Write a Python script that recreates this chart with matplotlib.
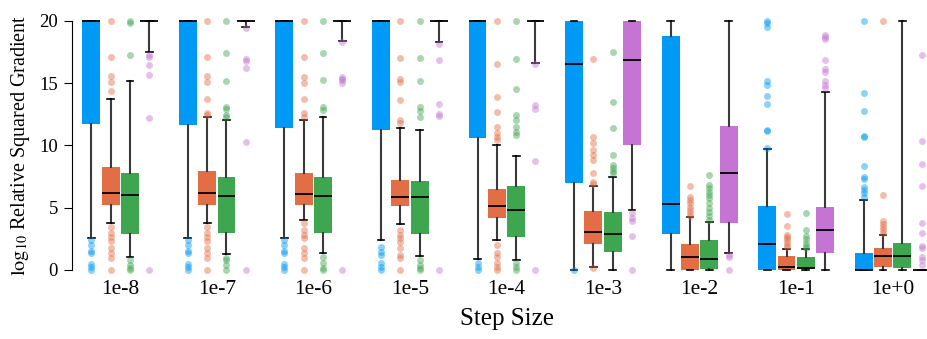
import numpy as np
import matplotlib
matplotlib.use('Agg')
import matplotlib.pyplot as plt

plt.rcParams['font.family'] = ['Liberation Serif', 'DejaVu Serif']
plt.rcParams['mathtext.fontset'] = 'stix'

steps = ['1e-8', '1e-7', '1e-6', '1e-5', '1e-4', '1e-3', '1e-2', '1e-1', '1e+0']
colors = ['#0099f5', '#e36e45', '#3da64e', '#c574d4']
offsets = [-0.3, -0.1, 0.1, 0.3]

# box statistics (log10 values, clipped to [0, 20])
blue_q1 = [11.74, 11.63, 11.42, 11.26, 10.61, 7.0, 2.91, 0, 0]
blue_med = [20, 20, 20, 20, 20, 16.5, 5.29, 2.09, 0]
blue_q3 = [20, 20, 20, 20, 20, 20, 18.77, 5.13, 1.39]
blue_lo = [2.57, 2.57, 2.57, 2.41, 0.86, 0, 0, 0, 0]
blue_hi = [20, 20, 20, 20, 20, 20, 20, 9.73, 5.61]
blue_fl = [
    [2.4, 2.0, 1.55, 1.34, 0.5, 0.27, 0],
    [2.4, 2.0, 1.55, 1.34, 0.5, 0.27, 0],
    [2.4, 2.0, 1.55, 1.34, 0.5, 0.27, 0],
    [1.87, 1.47, 1.2, 0.53, 0.27, 0],
    [0.53, 0.27, 0],
    [0],
    [],
    [20, 19.84, 19.47, 15.19, 14.84, 13.98, 13.29, 11.23, 11.15, 9.81],
    [20, 14.17, 12.78, 10.75, 10.7, 8.37, 7.49, 7.3, 6.68, 6.42, 6.15, 5.88],
]

orange_q1 = [5.24, 5.24, 5.24, 5.16, 4.2, 2.11, 0, 0, 0.27]
orange_med = [6.18, 6.18, 6.1, 5.88, 5.1, 3.02, 1.04, 0.27, 1.12]
orange_q3 = [8.26, 7.94, 7.78, 7.22, 6.5, 4.73, 2.09, 1.12, 1.76]
orange_lo = [3.74, 3.74, 4.01, 3.72, 2.38, 0.27, 0, 0, 0]
orange_hi = [13.69, 12.25, 12.03, 11.42, 10.05, 6.76, 4.22, 1.71, 2.81]
orange_fl = [
    [20, 17.1, 15.56, 15.08, 14.4, 3.48, 2.94, 2.62, 2.35, 1.74, 1.34, 0.94, 0],
    [20, 17.1, 15.56, 15.08, 13.74, 12.62, 12.43, 3.48, 2.94, 2.62, 2.35, 1.74, 1.34, 0.94, 0],
    [20, 17.06, 15.5, 15.03, 13.7, 12.57, 12.3, 3.74, 3.21, 2.81, 2.54, 1.74, 1.34, 0.94, 0],
    [20, 17.0, 15.3, 15.08, 13.64, 12.03, 11.82, 3.2, 2.81, 2.54, 2.27, 1.74, 1.2, 0.94, 0],
    [20, 16.5, 13.88, 12.67, 11.5, 10.96, 10.7, 10.43, 2.0, 1.34, 1.07, 0.53, 0.27, 0],
    [16.93, 10.7, 10.16, 9.6, 9.2, 8.8, 7.75, 7.09, 6.9, 0.13],
    [6.74, 5.83, 5.61, 5.35, 5.08, 4.81, 4.55, 4.33],
    [4.49, 3.53, 2.81, 2.62, 2.46, 2.27, 2.0, 1.82],
    [20, 6.04, 3.96, 3.69, 3.48, 3.21, 2.94],
]

green_q1 = [2.89, 2.99, 2.99, 2.91, 2.65, 1.47, 0.05, 0.1, 0.19]
green_med = [5.99, 5.96, 5.96, 5.83, 4.84, 2.86, 0.91, 0.13, 1.15]
green_q3 = [7.78, 7.46, 7.46, 7.14, 6.71, 4.65, 2.41, 1.04, 2.17]
green_lo = [1.07, 1.26, 1.34, 1.12, 0.8, 0, 0, 0, 0]
green_hi = [15.19, 12.03, 12.3, 11.23, 9.14, 7.46, 3.82, 1.66, 20]
green_fl = [
    [20, 19.84, 17.25, 0.8, 0.4, 0.13, 0],
    [20, 17.38, 15.19, 13.1, 12.89, 12.43, 12.3, 0.94, 0.8, 0.4, 0],
    [20, 17.38, 15.21, 13.1, 12.83, 1.02, 0.53, 0.13, 0],
    [20, 17.03, 15.16, 13.05, 12.78, 12.25, 0.8, 0.4, 0.13, 0],
    [20, 16.9, 14.52, 12.43, 12.03, 11.5, 11.1, 10.83, 0.53, 0.27, 0],
    [17.49, 13.48, 11.36, 9.25, 8.42, 8.16, 7.97, 7.75],
    [7.65, 6.82, 6.55, 6.28, 6.02, 5.75, 5.35, 4.95, 4.68, 4.33, 4.01],
    [4.57, 3.21, 2.73, 2.46, 2.19, 1.93, 1.74],
    [],
]

purple_q1 = [20, 20, 20, 20, 20, 10.05, 3.8, 1.39, 0]
purple_med = [20, 20, 20, 20, 20, 16.84, 7.78, 3.24, 0]
purple_q3 = [20, 20, 20, 20, 20, 20, 11.55, 5.05, 0]
purple_lo = [17.46, 19.52, 18.4, 18.26, 16.63, 4.79, 1.34, 0, 0]
purple_hi = [20, 20, 20, 20, 20, 20, 20, 14.28, 0]
purple_fl = [
    [17.25, 17.06, 16.44, 15.67, 12.19, 0],
    [19.39, 16.9, 16.76, 16.18, 10.29, 0],
    [18.3, 15.5, 15.3, 15.24, 15.03, 0],
    [18.1, 16.82, 13.32, 12.51, 12.35, 0],
    [16.5, 13.21, 12.94, 8.72, 0],
    [4.55, 4.14, 3.93, 2.73, 0],
    [1.2, 1.02, 0],
    [18.85, 18.66, 18.5, 16.84, 16.1, 15.9, 15.19, 14.84, 14.57],
    [17.25, 10.35, 8.5, 6.76, 3.8, 2.94, 1.93, 1.74, 1.07, 0.8, 0.4],
]

series = [
    (blue_q1, blue_med, blue_q3, blue_lo, blue_hi, blue_fl),
    (orange_q1, orange_med, orange_q3, orange_lo, orange_hi, orange_fl),
    (green_q1, green_med, green_q3, green_lo, green_hi, green_fl),
    (purple_q1, purple_med, purple_q3, purple_lo, purple_hi, purple_fl),
]

fig = plt.figure(figsize=(9.28, 3.39), dpi=100)
ax = fig.add_axes([72 / 928, 69 / 339, 869 / 928, 249.3 / 339])

x = np.arange(len(steps))
for (q1, med, q3, lo, hi, fl), off, c in zip(series, offsets, colors):
    stats = []
    for i in range(len(steps)):
        stats.append(dict(q1=q1[i], med=med[i], q3=q3[i], whislo=lo[i],
                          whishi=hi[i], fliers=fl[i]))
    res = ax.bxp(stats, positions=x + off, widths=0.185, capwidths=0.07,
                 patch_artist=True, manage_ticks=False,
                 boxprops=dict(facecolor=c, edgecolor='none', linewidth=0),
                 medianprops=dict(color='black', linewidth=1.3),
                 whiskerprops=dict(color='#3a3a3a', linewidth=1.5),
                 capprops=dict(color='black', linewidth=1.2),
                 flierprops=dict(marker='o', markerfacecolor=c,
                                 markeredgecolor='none', markersize=5,
                                 alpha=0.45))
    for art in res['fliers'] + res['medians'] + res['caps'] + res['whiskers']:
        art.set_clip_on(False)

ax.set_xlim(-0.5, 8.5)
ax.set_ylim(0, 20)
ax.set_yticks([0, 5, 10, 15, 20])
ax.set_xticks(x)
ax.set_xticklabels(steps)
ax.tick_params(axis='x', length=0, labelsize=15.5, pad=7)
ax.tick_params(axis='y', length=6, labelsize=13.5, pad=4)
for s in ['top', 'right', 'bottom']:
    ax.spines[s].set_visible(False)

ax.set_xlabel('Step Size', fontsize=18, labelpad=7)
ax.set_ylabel(r'$\mathrm{log}_{10}$ Relative Squared Gradient', fontsize=14.5, labelpad=5)

fig.savefig('out.png', dpi=100)
